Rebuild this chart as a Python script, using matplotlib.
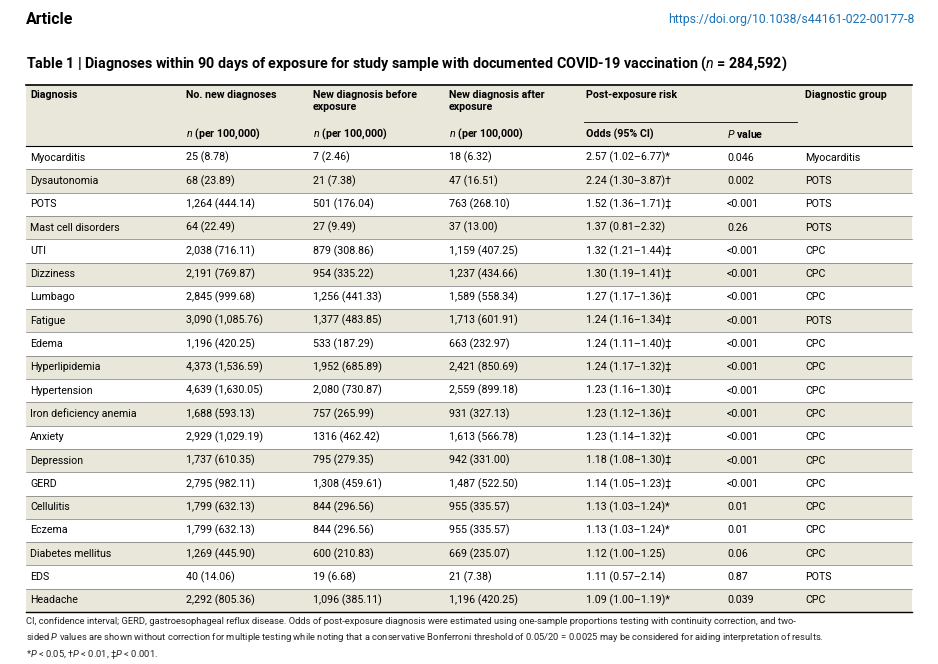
import matplotlib.pyplot as plt
from matplotlib.patches import Rectangle

plt.rcParams['font.family'] = ['Roboto', 'DejaVu Sans']
plt.rcParams['mathtext.fontset'] = 'custom'
plt.rcParams['mathtext.it'] = 'Roboto:italic'
plt.rcParams['mathtext.bf'] = 'Roboto:bold'

diagnoses = ["Myocarditis", "Dysautonomia", "POTS", "Mast cell disorders", "UTI", "Dizziness",
             "Lumbago", "Fatigue", "Edema", "Hyperlipidemia", "Hypertension",
             "Iron deficiency anemia", "Anxiety", "Depression", "GERD", "Cellulitis", "Eczema",
             "Diabetes mellitus", "EDS", "Headache"]
n_total = ["25 (8.78)", "68 (23.89)", "1,264 (444.14)", "64 (22.49)", "2,038 (716.11)",
           "2,191 (769.87)", "2,845 (999.68)", "3,090 (1,085.76)", "1,196 (420.25)",
           "4,373 (1,536.59)", "4,639 (1,630.05)", "1,688 (593.13)", "2,929 (1,029.19)",
           "1,737 (610.35)", "2,795 (982.11)", "1,799 (632.13)", "1,799 (632.13)",
           "1,269 (445.90)", "40 (14.06)", "2,292 (805.36)"]
n_before = ["7 (2.46)", "21 (7.38)", "501 (176.04)", "27 (9.49)", "879 (308.86)", "954 (335.22)",
            "1,256 (441.33)", "1,377 (483.85)", "533 (187.29)", "1,952 (685.89)",
            "2,080 (730.87)", "757 (265.99)", "1316 (462.42)", "795 (279.35)", "1,308 (459.61)",
            "844 (296.56)", "844 (296.56)", "600 (210.83)", "19 (6.68)", "1,096 (385.11)"]
n_after = ["18 (6.32)", "47 (16.51)", "763 (268.10)", "37 (13.00)", "1,159 (407.25)",
           "1,237 (434.66)", "1,589 (558.34)", "1,713 (601.91)", "663 (232.97)",
           "2,421 (850.69)", "2,559 (899.18)", "931 (327.13)", "1,613 (566.78)",
           "942 (331.00)", "1,487 (522.50)", "955 (335.57)", "955 (335.57)", "669 (235.07)",
           "21 (7.38)", "1,196 (420.25)"]
odds = ["2.57 (1.02–6.77)*", "2.24 (1.30–3.87)†", "1.52 (1.36–1.71)‡", "1.37 (0.81–2.32)",
        "1.32 (1.21–1.44)‡", "1.30 (1.19–1.41)‡", "1.27 (1.17–1.36)‡", "1.24 (1.16–1.34)‡",
        "1.24 (1.11–1.40)‡", "1.24 (1.17–1.32)‡", "1.23 (1.16–1.30)‡", "1.23 (1.12–1.36)‡",
        "1.23 (1.14–1.32)‡", "1.18 (1.08–1.30)‡", "1.14 (1.05–1.23)‡", "1.13 (1.03–1.24)*",
        "1.13 (1.03–1.24)*", "1.12 (1.00–1.25)", "1.11 (0.57–2.14)", "1.09 (1.00–1.19)*"]
p_values = ["0.046", "0.002", "<0.001", "0.26", "<0.001", "<0.001", "<0.001", "<0.001",
            "<0.001", "<0.001", "<0.001", "<0.001", "<0.001", "<0.001", "<0.001", "0.01",
            "0.01", "0.06", "0.87", "0.039"]
groups = ["Myocarditis", "POTS", "POTS", "POTS", "CPC", "CPC", "CPC", "POTS", "CPC", "CPC",
          "CPC", "CPC", "CPC", "CPC", "CPC", "CPC", "CPC", "CPC", "POTS", "CPC"]

W, H = 938, 664
fig = plt.figure(figsize=(W / 100, H / 100), dpi=100)
ax = fig.add_axes([0, 0, 1, 1])
ax.set_xlim(0, W)
ax.set_ylim(H, 0)
ax.axis('off')

beige = '#e9e7da'
fs = 7.7
cols = [30, 186, 313, 449, 586, 727, 805]
left, right = 26, 912
top, head_bot = 85, 146
row_h = (612 - head_bot) / len(diagnoses)

ax.text(26, 20, "Article", fontsize=11.5, fontweight='bold', va='center')
ax.text(914, 20, "https://doi.org/10.1038/s44161-022-00177-8", fontsize=8.8,
        color='#1a73b8', va='center', ha='right')
ax.text(26, 64, "Table 1 | Diagnoses within 90 days of exposure for study sample with documented "
        "COVID-19 vaccination ($\\it{n}$ = 284,592)", fontsize=10.3, fontweight='bold', va='center')

# header
ax.add_patch(Rectangle((left, top), right - left, head_bot - top, color=beige, lw=0))
ax.plot([left, right], [top, top], color='black', lw=1.2)
ax.plot([left, right], [head_bot, head_bot], color='black', lw=0.8)
ax.plot([584, 797], [122, 122], color='black', lw=0.6)
heads = ["Diagnosis", "No. new diagnoses", "New diagnosis before\nexposure",
         "New diagnosis after\nexposure", "Post-exposure risk", "", "Diagnostic group"]
for x, t in zip(cols, heads):
    ax.text(x, 90, t, fontsize=fs, fontweight='bold', va='top', linespacing=1.2)
subs = ["", "$\\it{n}$ (per 100,000)", "$\\it{n}$ (per 100,000)",
        "$\\it{n}$ (per 100,000)", "Odds (95% CI)", "$\\it{P}$ value", ""]
for x, t in zip(cols, subs):
    ax.text(x, 134, t, fontsize=fs, fontweight='bold', va='center')

# body
for i in range(len(diagnoses)):
    y0 = head_bot + i * row_h
    if i % 2 == 1:
        ax.add_patch(Rectangle((left, y0), right - left, row_h, color=beige, lw=0))
    if i > 0:
        ax.plot([left, right], [y0, y0], color='#555555', lw=0.4)
    yc = y0 + row_h / 2
    vals = [diagnoses[i], n_total[i], n_before[i], n_after[i], odds[i], p_values[i], groups[i]]
    for x, t in zip(cols, vals):
        ax.text(x, yc, t, fontsize=fs, va='center')
ax.plot([left, right], [612, 612], color='black', lw=1.0)

foot = ("CI, confidence interval; GERD, gastroesophageal reflux disease. Odds of post-exposure diagnosis "
        "were estimated using one-sample proportions testing with continuity correction, and two-\n"
        "sided $\\it{P}$ values are shown without correction for multiple testing while noting that a "
        "conservative Bonferroni threshold of 0.05/20 = 0.0025 may be considered for aiding interpretation of results.\n"
        "*$\\it{P}$ < 0.05, †$\\it{P}$ < 0.01, ‡$\\it{P}$ < 0.001.")
ax.text(26, 617, foot, fontsize=6.75, va='top', linespacing=1.5, color='#222222')

fig.savefig("out.png", dpi=100)
